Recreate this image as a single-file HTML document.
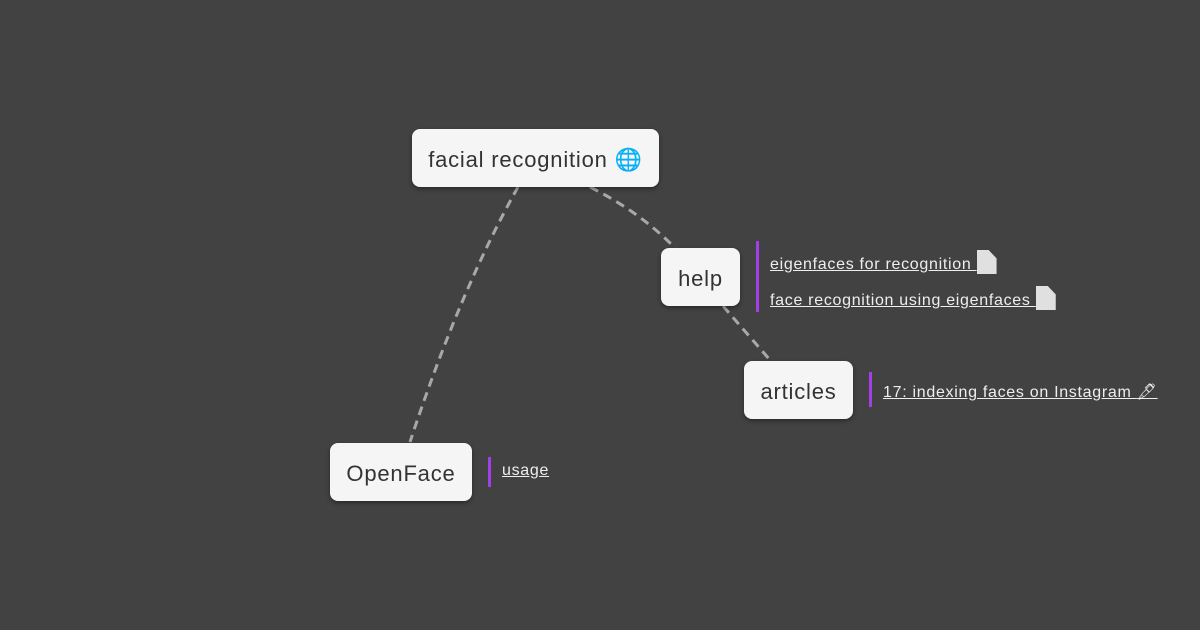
<!DOCTYPE html>
<html><head><meta charset="utf-8"><style>
body{margin:0;width:1200px;height:630px;background:#424242;position:relative;overflow:hidden;font-family:"Liberation Sans","DejaVu Sans",sans-serif}
.n{position:absolute;background:#f5f5f5;border-radius:8px;box-shadow:0 2px 4px rgba(0,0,0,.4);color:#333;font-size:22px;letter-spacing:0.8px;display:flex;align-items:center;justify-content:center;box-sizing:border-box;padding-top:3px;white-space:nowrap}
.bar{position:absolute;width:3px;background:#a43ee6}
.l{position:absolute;color:#eee;font-size:16px;letter-spacing:0.7px;text-decoration:underline;white-space:nowrap}
.doc{display:inline-block;width:20px;height:24px;background:#e0e0e0;vertical-align:-5px;clip-path:polygon(0 0,60% 0,100% 35%,100% 100%,0 100%)}
</style></head><body>
<svg width="1200" height="630" style="position:absolute;left:0;top:0">
<g fill="none" stroke="#a8a8a8" stroke-width="3" stroke-dasharray="9,6">
<path d="M518 187 Q460 290 410 442"/>
<path d="M590 187 Q640 212 675 248"/>
<path d="M723 306 L770 360"/>
</g></svg>
<div class="n" style="left:412px;top:129px;width:247px;height:58px">facial recognition&nbsp;<span style="color:#4aa8d8">🌐</span></div>
<div class="n" style="left:661px;top:248px;width:79px;height:58px">help</div>
<div class="n" style="left:744px;top:361px;width:109px;height:58px">articles</div>
<div class="n" style="left:330px;top:443px;width:142px;height:58px">OpenFace</div>
<div class="bar" style="left:756px;top:241px;height:71px"></div>
<div class="l" style="left:770px;top:250px">eigenfaces for recognition <span class="doc"></span></div>
<div class="l" style="left:770px;top:286px">face recognition using eigenfaces <span class="doc"></span></div>
<div class="bar" style="left:869px;top:372px;height:35px"></div>
<div class="l" style="left:883px;top:382px">17: indexing faces on Instagram <span style="text-decoration:none">🖋</span></div>
<div class="bar" style="left:488px;top:457px;height:30px"></div>
<div class="l" style="left:502px;top:462px">usage</div>
</body></html>
